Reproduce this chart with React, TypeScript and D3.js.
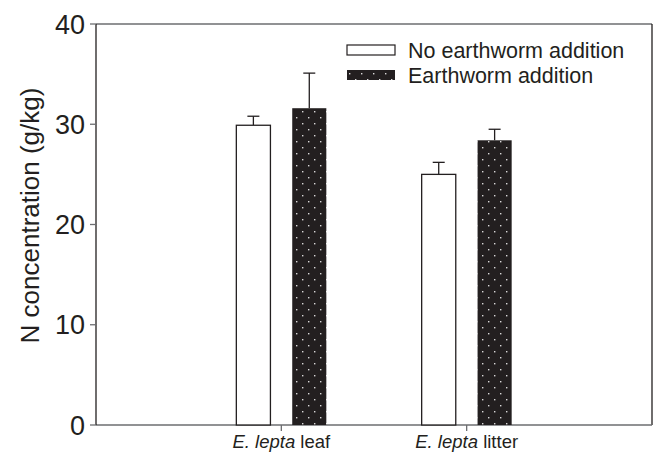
import React from "react";
import * as d3 from "d3";

const categories = ["leaf", "litter"];
const series = ["No earthworm addition", "Earthworm addition"];
const noEarthworm = [29.9, 25.0];
const noEarthwormErr = [0.9, 1.2];
const earthworm = [31.6, 28.4];
const earthwormErr = [3.5, 1.1];
const yTicks = [0, 10, 20, 30, 40];

const W = 656;
const H = 456;
const left = 96;
const right = 652;
const top = 24;
const bottom = 425;
const ink = "#231f20";
const frame = "#6d6e71";

export default function App() {
  const y = d3.scaleLinear().domain([0, 40]).range([bottom, top]);
  const x = d3.scalePoint<string>().domain(categories).range([left, right]).padding(1);
  const sub = d3.scaleBand<string>().domain(series).range([-45, 45]).paddingInner(0.39);
  const bw = sub.bandwidth();
  const data = [noEarthworm, earthworm];
  const errs = [noEarthwormErr, earthwormErr];
  const font = "'Liberation Sans', Arial, Helvetica, sans-serif";

  return (
    <svg width={W} height={H} style={{ position: "absolute", left: 0, top: 0, background: "#fff" }} fontFamily={font}>
      <defs>
        <pattern id="dots" patternUnits="userSpaceOnUse" width={12} height={12}>
          <rect width={12} height={12} fill={ink} />
          <rect x={2} y={3} width={1.4} height={1.4} fill="#d9d9d9" />
          <rect x={8} y={9} width={1.4} height={1.4} fill="#d9d9d9" />
        </pattern>
      </defs>
      <rect width={W} height={H} fill="#fff" />
      {/* frame */}
      <line x1={left} x2={right} y1={top} y2={top} stroke={frame} strokeWidth={1.3} />
      <line x1={right} x2={right} y1={top} y2={bottom} stroke={ink} strokeWidth={1.3} />
      <line x1={left} x2={right} y1={bottom} y2={bottom} stroke={frame} strokeWidth={1.3} />
      <line x1={left} x2={left} y1={top} y2={bottom} stroke={ink} strokeWidth={1.3} />
      {yTicks.map((t) => (
        <g key={t}>
          <line x1={left - 6} x2={left} y1={y(t)} y2={y(t)} stroke={frame} strokeWidth={1.3} />
          <text x={85} y={y(t)} dy="0.36em" textAnchor="end" fontSize={27} fill={ink}>
            {t}
          </text>
        </g>
      ))}
      {categories.map((c, i) => (
        <g key={c}>
          <line x1={x(c)} x2={x(c)} y1={bottom} y2={bottom + 6} stroke={frame} strokeWidth={1.3} />
          <text x={x(c)} y={448} textAnchor="middle" fontSize={18.5} fill={ink}>
            <tspan fontStyle="italic">E. lepta</tspan> {c}
          </text>
          {series.map((s, j) => {
            const v = data[j][i];
            const e = errs[j][i];
            const bx = (x(c) as number) + (sub(s) as number);
            const cx = bx + bw / 2;
            return (
              <g key={s}>
                <line x1={cx} x2={cx} y1={y(v)} y2={y(v + e)} stroke={ink} strokeWidth={1.3} />
                <line x1={cx - 6} x2={cx + 6} y1={y(v + e)} y2={y(v + e)} stroke={ink} strokeWidth={1.3} />
                <rect
                  x={bx}
                  y={y(v)}
                  width={bw}
                  height={bottom - y(v)}
                  fill={j === 0 ? "#fff" : "url(#dots)"}
                  stroke={j === 0 ? ink : "none"}
                  strokeWidth={1.3}
                />
              </g>
            );
          })}
        </g>
      ))}
      <text
        transform={`translate(39, ${(top + bottom) / 2 - 9}) rotate(-90)`}
        textAnchor="middle"
        fontSize={26}
        fill={ink}
      >
        N concentration (g/kg)
      </text>
      {/* legend */}
      {series.map((s, j) => (
        <g key={s} transform={`translate(347, ${45 + j * 25})`}>
          <rect
            x={0}
            y={0}
            width={48}
            height={10}
            fill={j === 0 ? "#fff" : "url(#dots)"}
            stroke={j === 0 ? ink : "none"}
            strokeWidth={1.2}
          />
          <text x={61} y={5} dy="0.36em" fontSize={21.5} fill={ink}>
            {s}
          </text>
        </g>
      ))}
    </svg>
  );
}
